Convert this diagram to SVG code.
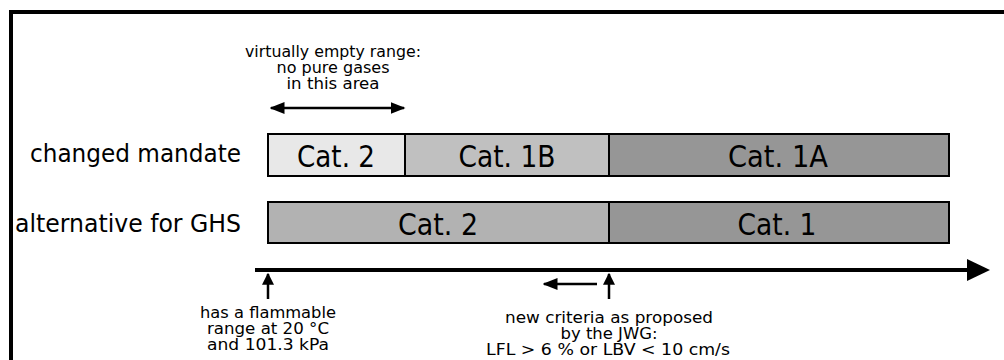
<svg xmlns="http://www.w3.org/2000/svg" width="1004" height="360" viewBox="0 0 1004 360">
<defs>
<style>
text{font-family:"DejaVu Sans","Liberation Sans",sans-serif;fill:#000}
.big{font-size:31px;text-anchor:middle}
.lab{font-size:24px;text-anchor:end}
.sm{font-size:15px;text-anchor:middle}
.box{stroke:#000;stroke-width:2}
.ln{stroke:#000;stroke-width:2.5;fill:none}
</style>
<marker id="ah" viewBox="0 0 10 8" refX="9" refY="4" markerWidth="6" markerHeight="4.8" orient="auto-start-reverse" markerUnits="strokeWidth"><path d="M0,0 L10,4 L0,8 z" fill="#000"/></marker>
<marker id="au" viewBox="0 0 10 10" refX="9" refY="5" markerWidth="4.8" markerHeight="5" orient="auto" markerUnits="strokeWidth"><path d="M0,0 L10,5 L0,10 z" fill="#000"/></marker>
</defs>
<rect width="1004" height="360" fill="#fff"/>
<path d="M11,362 V12 H1006" fill="none" stroke="#000" stroke-width="4"/>
<g id="row1">
<text class="lab" x="241" y="162" textLength="211" lengthAdjust="spacingAndGlyphs">changed mandate</text>
<g id="r1c2"><rect class="box" x="268" y="134" width="137" height="42" fill="#e8e8e8"/><text class="big" x="336" y="167" textLength="78" lengthAdjust="spacingAndGlyphs">Cat. 2</text></g>
<g id="r1c1b"><rect class="box" x="405" y="134" width="204" height="42" fill="#c0c0c0"/><text class="big" x="507" y="167" textLength="97" lengthAdjust="spacingAndGlyphs">Cat. 1B</text></g>
<g id="r1c1a"><rect class="box" x="609" y="134" width="340" height="42" fill="#969696"/><text class="big" x="778" y="167" textLength="100" lengthAdjust="spacingAndGlyphs">Cat. 1A</text></g>
</g>
<g id="row2">
<text class="lab" x="241" y="232" textLength="226" lengthAdjust="spacingAndGlyphs">alternative for GHS</text>
<g id="r2c2"><rect class="box" x="268" y="202" width="341" height="41" fill="#b2b2b2"/><text class="big" x="438" y="235" textLength="80" lengthAdjust="spacingAndGlyphs">Cat. 2</text></g>
<g id="r2c1"><rect class="box" x="609" y="202" width="340" height="41" fill="#969696"/><text class="big" x="777" y="235" textLength="79" lengthAdjust="spacingAndGlyphs">Cat. 1</text></g>
</g>
<g id="note-top">
<text class="sm" x="333" y="57" textLength="176" lengthAdjust="spacingAndGlyphs">virtually empty range:</text>
<text class="sm" x="333" y="73" textLength="113" lengthAdjust="spacingAndGlyphs">no pure gases</text>
<text class="sm" x="333" y="89" textLength="93" lengthAdjust="spacingAndGlyphs">in this area</text>
</g>
<g id="note-left">
<text class="sm" x="268" y="318" textLength="136" lengthAdjust="spacingAndGlyphs">has a flammable</text>
<text class="sm" x="268" y="334" textLength="122" lengthAdjust="spacingAndGlyphs">range at 20 °C</text>
<text class="sm" x="268" y="350" textLength="122" lengthAdjust="spacingAndGlyphs">and 101.3 kPa</text>
</g>
<g id="note-right">
<text class="sm" x="609" y="323" textLength="208" lengthAdjust="spacingAndGlyphs">new criteria as proposed</text>
<text class="sm" x="609" y="339" textLength="97" lengthAdjust="spacingAndGlyphs">by the JWG:</text>
<text class="sm" x="608" y="355" textLength="244" lengthAdjust="spacingAndGlyphs">LFL &gt; 6 % or LBV &lt; 10 cm/s</text>
</g>
<g id="connectors">
<line x1="255" y1="270" x2="972" y2="270" stroke="#000" stroke-width="4"/>
<path d="M967,259 L990,270 L967,281 z" fill="#000"/>
<line class="ln" x1="271" y1="108" x2="404" y2="108" marker-start="url(#ah)" marker-end="url(#ah)"/>
<line class="ln" x1="268" y1="299" x2="268" y2="274" marker-end="url(#au)"/>
<line class="ln" x1="609" y1="299" x2="609" y2="274" marker-end="url(#au)"/>
<line class="ln" x1="597" y1="284" x2="544" y2="284" marker-end="url(#ah)"/>
</g>
</svg>
